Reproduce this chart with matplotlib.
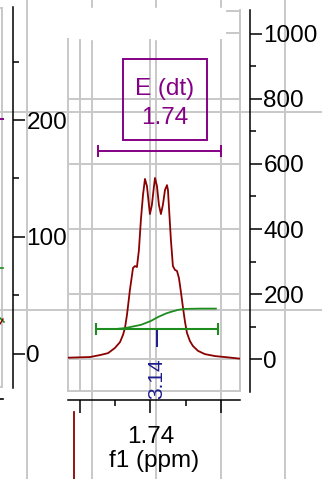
import matplotlib
import matplotlib.pyplot as plt
from matplotlib.patches import Rectangle

matplotlib.use('Agg')
plt.rcParams['font.family'] = ['Liberation Sans', 'DejaVu Sans']

W, H = 322, 479

# 1H trace around the E multiplet (ppm, intensity)
ppm = [1.7985, 1.7829, 1.7758, 1.7701, 1.7652, 1.7616, 1.7595, 1.7581,
       1.7567, 1.7560, 1.7546, 1.7532, 1.7524, 1.7510, 1.7496, 1.7482,
       1.7468, 1.7453, 1.7439, 1.7425, 1.7411, 1.7404, 1.7390, 1.7375,
       1.7368, 1.7354, 1.7340, 1.7326, 1.7312, 1.7297, 1.7283, 1.7276,
       1.7269, 1.7255, 1.7241, 1.7226, 1.7212, 1.7198, 1.7184, 1.7170,
       1.7155, 1.7141, 1.7120, 1.7099, 1.7063, 1.7014, 1.6943, 1.6851,
       1.6766]
intensity = [4, 6, 12, 18, 34, 52, 74, 95,
             135, 160, 212, 255, 280, 286, 283, 335,
             428, 505, 554, 532, 474, 446, 474, 532,
             557, 532, 474, 446, 474, 520, 535, 520,
             468, 366, 286, 274, 271, 249, 206, 160,
             114, 80, 55, 40, 25, 15, 9, 5,
             1]

# integral curve
int_ppm = [1.7772, 1.7652, 1.7581, 1.7468, 1.7397, 1.7347, 1.7290,
           1.7255, 1.7205, 1.7162, 1.7049, 1.6936]
int_val = [92, 92, 95, 105, 117, 129, 140, 145, 151, 154, 155, 155]

integral_range = (1.7787, 1.6921)
integral_level = 92
integral_text = '3.14'
integral_mark = 1.7354

mult_range = (1.7772, 1.6900)
mult_level = 640
mult_name = 'E (dt)'
mult_shift = '1.74'

x_major = [1.79, 1.74, 1.69]
x_labels = ['', '1.74', '']
x_minor = [1.765, 1.715]

GRID = '#c8c8c8'
RED = '#8b0000'
GREEN = '#1e8c1e'
PURPLE = '#850085'
NAVY = '#1c1c8c'
FS = 17.5


def px_axes(fig, x0, y0, x1, y1):
    return fig.add_axes([x0 / W, 1 - y1 / H, (x1 - x0) / W, (y1 - y0) / H])


fig = plt.figure(figsize=(W / 100, H / 100), dpi=100)

# background grid of the larger layout behind the panel
bg = px_axes(fig, 0, 0, W, H)
bg.set_xlim(0, W)
bg.set_ylim(H, 0)
bg.axis('off')
for gx in [27, 92, 156, 221, 285]:
    bg.axvline(gx, color=GRID, lw=1.4, zorder=1)
for gy in [112, 310]:
    bg.axhline(gy, color=GRID, lw=1.4, zorder=1)
bg.add_patch(Rectangle((62, 8), 180, 31, color='white', zorder=2))
bg.plot([227, 240], [11, 11], color=GRID, lw=1.4, zorder=3)
bg.plot([227, 240], [33, 33], color=GRID, lw=1.4, zorder=3)
bg.plot([240, 240], [10, 391], color=GRID, lw=1.4, zorder=3)
# bits of the neighbouring panel on the left
bg.plot([2.5, 2.5], [8, 387], color=GRID, lw=1.4, zorder=3)
bg.plot([0, 2.5], [8, 8], color=GRID, lw=1.4, zorder=3)
bg.plot([0, 2.5], [387, 387], color=GRID, lw=1.4, zorder=3)
bg.plot([0, 3], [119, 119], color=PURPLE, lw=1.4, zorder=3)
bg.plot([0, 3], [268, 268], color=GREEN, lw=1.2, zorder=3)
bg.plot([0, 4], [318, 322], color=GREEN, lw=1.2, zorder=3)
bg.plot([0, 3], [324, 319], color=RED, lw=1.0, zorder=3)
bg.plot([0, 3], [399, 399], color='black', lw=1.2, zorder=3)
bg.plot([74, 74], [412, 479], color=RED, lw=1.3, zorder=3)

# spectrum panel
sp = px_axes(fig, 68, 39, 240, 391)
sp.patch.set_alpha(0)
sp.set_xlim(1.7985, 1.6765)
sp.set_ylim(-98.5, 984.6)
sp.set_xticks(x_major)
sp.set_yticks([0, 200, 400, 600, 800])
sp.grid(True, color=GRID, lw=1.4)
sp.tick_params(left=False, bottom=False, labelleft=False, labelbottom=False)
sp.spines['top'].set_visible(False)
for s in ['left', 'right', 'bottom']:
    sp.spines[s].set_color(GRID)
    sp.spines[s].set_linewidth(1.4)

sp.plot(ppm, intensity, color=RED, lw=1.3, zorder=4)
sp.plot(int_ppm, int_val, color=GREEN, lw=1.3, zorder=5)

ic = (integral_range[0] + integral_range[1]) / 2
ih = (integral_range[0] - integral_range[1]) / 2
sp.errorbar(ic, integral_level, xerr=ih, fmt='none', ecolor=GREEN,
            elinewidth=1.5, capsize=4.5, capthick=1.5, zorder=5)
sp.plot([integral_mark, integral_mark], [40, 89], color=NAVY, lw=1.4)
sp.text(integral_mark, -61, integral_text, rotation=90, ha='center',
        va='center', fontsize=15, color=NAVY, clip_on=False)

mc = (mult_range[0] + mult_range[1]) / 2
mh = (mult_range[0] - mult_range[1]) / 2
sp.errorbar(mc, mult_level, xerr=mh, fmt='none', ecolor=PURPLE,
            elinewidth=1.4, capsize=4, capthick=1.4, zorder=5)
sp.add_patch(Rectangle((1.7597, 674), 1.7002 - 1.7597, 923 - 674,
                       fill=False, edgecolor=PURPLE, lw=1.4, zorder=5))
sp.text(1.7300, 830, mult_name, ha='center', va='center', fontsize=FS,
        color=PURPLE)
sp.text(1.7300, 743, mult_shift, ha='center', va='center', fontsize=FS,
        color=PURPLE)

# chemical shift axis below the panel
sec = sp.secondary_xaxis(-9 / 352)
sec.set_xticks(x_major, labels=x_labels)
sec.set_xticks(x_minor, minor=True)
sec.tick_params(which='major', length=9.4, width=1.1, labelsize=FS, pad=9)
sec.tick_params(which='minor', length=4.3, width=1.1)
sec.spines['bottom'].set_linewidth(1.1)
sec.set_xlabel('f1 (ppm)', fontsize=FS, labelpad=2)

# intensity axis on the right
ra = px_axes(fig, 245, 10, 250, 392)
ra.patch.set_alpha(0)
ra.set_ylim(-101.5, 1073.8)
ra.set_xticks([])
ra.yaxis.tick_right()
ra.set_yticks([0, 200, 400, 600, 800, 1000])
ra.set_yticks([100, 300, 500, 700, 900], minor=True)
ra.tick_params(which='major', length=8.6, width=1.1, labelsize=FS, pad=1)
ra.tick_params(which='minor', length=4.3, width=1.1)
for s in ['left', 'top', 'bottom']:
    ra.spines[s].set_visible(False)
ra.spines['right'].set_linewidth(1.1)

# intensity axis of the left neighbour
la = px_axes(fig, 8, 7, 13, 388)
la.patch.set_alpha(0)
la.set_ylim(-29.1, 296.6)
la.set_xticks([])
la.yaxis.tick_right()
la.set_yticks([0, 100, 200])
la.set_yticks([50, 150, 250], minor=True)
la.tick_params(which='major', length=8.6, width=1.1, labelsize=FS, pad=1)
la.tick_params(which='minor', length=4.3, width=1.1)
for s in ['left', 'top', 'bottom']:
    la.spines[s].set_visible(False)
la.spines['right'].set_linewidth(1.1)

fig.savefig('out.png', dpi=100)
